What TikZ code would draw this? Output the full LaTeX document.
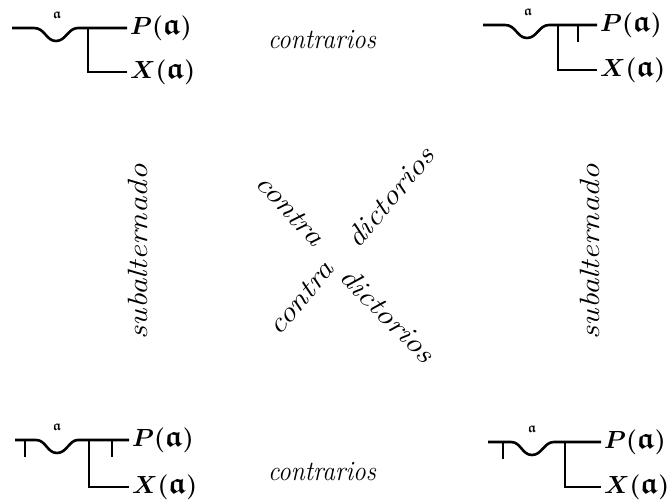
\documentclass[tikz,border=0pt]{standalone}
\usepackage{amsmath,amssymb}
\usetikzlibrary{positioning}

\begin{document}
\begin{tikzpicture}[x=1bp,y=-1bp,
  frm/.style={line width=2.6bp},
  prop/.style={font=\fontsize{30}{32}\selectfont\boldmath,inner ysep=0pt,
               inner xsep=3bp,anchor=west},
  var/.style={font=\fontsize{14}{14}\selectfont\boldmath,inner sep=0pt},
  rel/.style={font=\fontsize{28}{32}\selectfont\itshape,inner sep=0pt},
  wide/.style={xscale=1.18}
]
\useasboundingbox (0,0) rectangle (672,504);

%% ── top left ────────────────────────────────────────────────────────────────
\node[prop] (tlP) at (127,28) {$P(\mathfrak{a})$};
\node[prop] (tlX) at (127,72) {$X(\mathfrak{a})$};
\node[var]  (tla) at (57,15)  {$\mathfrak{a}$};
\coordinate (tl0) at (12,28);
\coordinate (tlb) at (88,28);
\draw[frm] (tl0) -- (34,28) .. controls (45,28) and (46,41) .. (56,41)
  .. controls (66,41) and (68,28) .. (78,28) -- (tlP.west);
\draw[frm] (tlb) |- (tlX.west);

%% ── top right ───────────────────────────────────────────────────────────────
\node[prop] (trP) at (597,25) {$P(\mathfrak{a})$};
\node[prop] (trX) at (597,70) {$X(\mathfrak{a})$};
\node[var]  (tra) at (528,12) {$\mathfrak{a}$};
\coordinate (tr0) at (483,25);
\coordinate (trb) at (558,25);
\coordinate (trn) at (578,25);
\draw[frm] (tr0) -- (505,25) .. controls (516,25) and (517,38) .. (527,38)
  .. controls (537,38) and (539,25) .. (549,25) -- (trP.west);
\draw[frm] (trb) |- (trX.west);
\draw[frm] (trn) -- ++(0,17);

%% ── bottom left ─────────────────────────────────────────────────────────────
\node[prop] (blP) at (129,440) {$P(\mathfrak{a})$};
\node[prop] (blX) at (129,487) {$X(\mathfrak{a})$};
\node[var]  (bla) at (57,427)  {$\mathfrak{a}$};
\coordinate (bl0) at (15,440);
\coordinate (bln) at (25,440);
\coordinate (blb) at (89,440);
\coordinate (blm) at (112,440);
\draw[frm] (bl0) -- (36,440) .. controls (46,440) and (47,453) .. (57,453)
  .. controls (67,453) and (69,440) .. (78,440) -- (blP.west);
\draw[frm] (blb) |- (blX.west);
\draw[frm] (bln) -- ++(0,17);
\draw[frm] (blm) -- ++(0,17);

%% ── bottom right ────────────────────────────────────────────────────────────
\node[prop] (brP) at (601,442) {$P(\mathfrak{a})$};
\node[prop] (brX) at (601,487) {$X(\mathfrak{a})$};
\node[var]  (bra) at (532,429) {$\mathfrak{a}$};
\coordinate (br0) at (488,442);
\coordinate (brn) at (503,442);
\coordinate (brb) at (565,442);
\draw[frm] (br0) -- (511,442) .. controls (521,442) and (522,455) .. (532,455)
  .. controls (542,455) and (544,442) .. (554,442) -- (brP.west);
\draw[frm] (brb) |- (brX.west);
\draw[frm] (brn) -- ++(0,17);

%% ── relations ───────────────────────────────────────────────────────────────
\node[rel,xscale=0.91] (ctop) at (322,40)  {contrarios};
\node[rel,xscale=0.91] (cbot) at (322,472) {contrarios};
\node[rel,rotate=90,wide]  (sl) at (138,252) {subalternado};
\node[rel,rotate=90,wide]  (sr) at (590,252) {subalternado};
\node[rel,rotate=-47,wide] (c1) at (290,210) {contra};
\node[rel,rotate=50,wide]  (d1) at (390,197) {dictorios};
\node[rel,rotate=50,wide]  (c2) at (301,298) {contra};
\node[rel,rotate=-45,wide] (d2) at (388,315) {dictorios};
\end{tikzpicture}
\end{document}
